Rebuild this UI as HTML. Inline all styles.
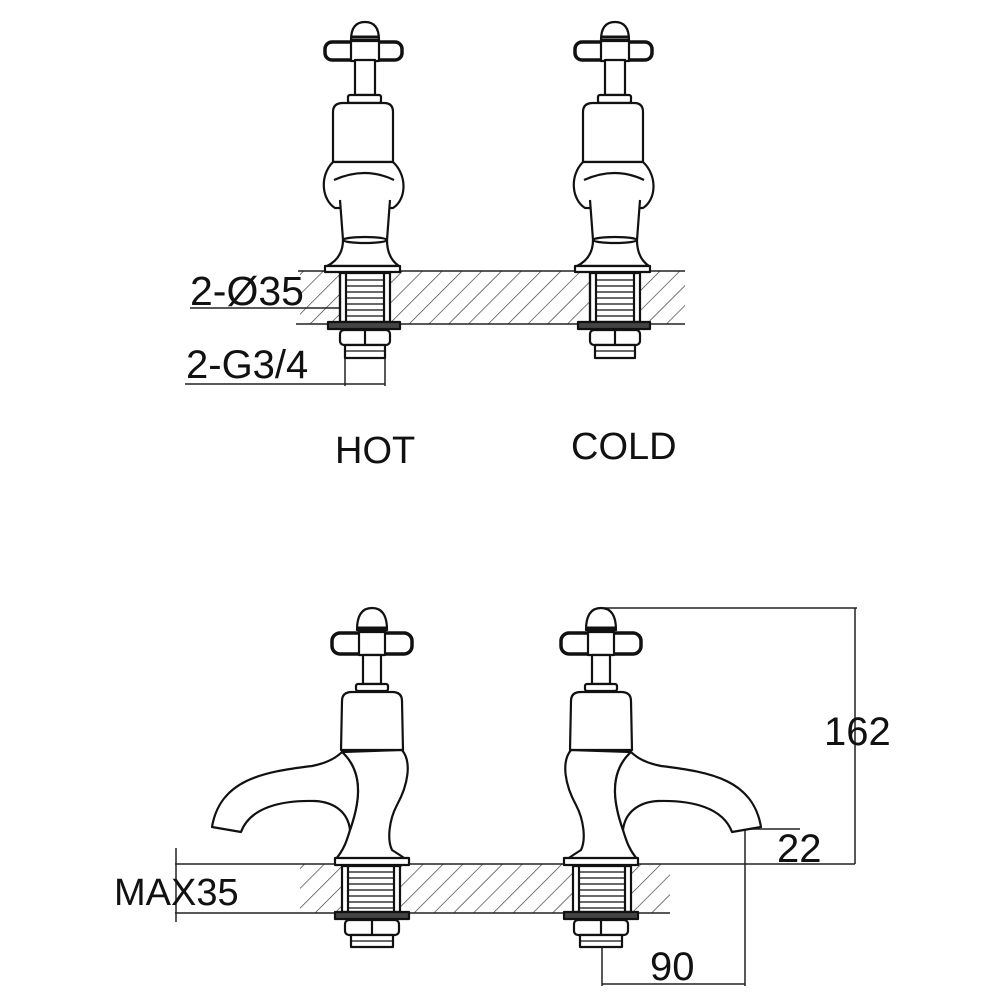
<!DOCTYPE html>
<html><head><meta charset="utf-8"><style>
html,body{margin:0;padding:0;background:#fff}
svg{display:block}
text{font-family:"Liberation Sans",sans-serif;fill:#111}
</style></head><body>
<svg width="1000" height="1000" viewBox="0 0 1000 1000" xmlns="http://www.w3.org/2000/svg">
<defs>
<pattern id="h" patternUnits="userSpaceOnUse" width="14" height="14" patternTransform="rotate(45)">
<line x1="0" y1="0" x2="0" y2="14" stroke="#333" stroke-width="1.3"/>
</pattern>
<g id="top" fill="#fff" stroke="#111" stroke-width="2.2" stroke-linejoin="round">
<path d="M-14,40 Q-14,22 0,22 Q14,22 14,40 Z"/>
<line x1="-13" y1="37" x2="13" y2="37" stroke-width="3"/>
<rect x="-40" y="42" width="77" height="18" rx="7" stroke-width="3.5"/>
<rect x="-14" y="41" width="28" height="20"/>
<rect x="-10" y="60" width="20" height="35"/>
<rect x="-17" y="95" width="33" height="8" rx="2"/>
<path d="M-32,162 L-32,112 Q-32,103 -22,103 L19,103 Q28,103 28,112 L28,162 Z"/>
<path d="M-32,162 C-46,176 -43,200 -30,208 L28,208 C41,200 43,176 28,162 Z"/>
<path d="M-31,180 Q0,166 29,180" fill="none"/>
<path d="M-25,200 L-22,240 L22,240 L25,200"/>
<path d="M-22,240 C-22,255 -30,262 -38,266 L34,266 C28,262 22,255 22,240 Z"/>
<ellipse cx="0" cy="240" rx="22" ry="3"/>
<rect x="-40" y="266" width="75" height="6"/>
<rect x="-25" y="273" width="50" height="49"/>
<line x1="-25" y1="273" x2="-25" y2="322"/><line x1="-19" y1="273" x2="-19" y2="322"/>
<line x1="19" y1="273" x2="19" y2="322"/>
<path d="M-18,280H18M-18,286H18M-18,292H18M-18,298H18M-18,304H18M-18,310H18M-18,316H18" stroke-width="1.3"/>
<rect x="-37" y="322" width="72" height="7" fill="#444"/>
<rect x="-25" y="330" width="50" height="15" rx="4"/>
<line x1="0" y1="330" x2="0" y2="345"/>
<rect x="-20" y="345" width="40" height="13"/>
<path d="M-20,351H20" stroke-width="1.3"/>
</g>
<g id="bot" fill="#fff" stroke="#111" stroke-width="2.2" stroke-linejoin="round">
<path d="M-15,630 Q-15,608 0,608 Q15,608 15,630 Z"/>
<line x1="-14" y1="628" x2="14" y2="628" stroke-width="3"/>
<rect x="-40" y="633" width="80" height="21" rx="8" stroke-width="3.5"/>
<rect x="-13" y="632" width="26" height="23"/>
<rect x="-9" y="655" width="18" height="29"/>
<rect x="-16" y="684" width="32" height="7" rx="2"/>
<path d="M-31,750 L-30,701 Q-30,692 -20,692 L20,692 Q30,692 30,701 L31,750 Z"/>
<path d="M-30,750 C-40,762 -36,785 -25,805 C-17,820 -15,840 -20,850 Q-28,855 -35,860 L37,860 C28,850 25,840 22,830 C15,810 5,775 30,752 Z"/>
<path d="M30,752 Q40,762 60,766 C110,772 152,780 160,827 L131,832 C122,808 92,800 57,801 C38,802 24,812 22,830 C15,810 5,775 30,752 Z"/>
<rect x="-37" y="858" width="74" height="7"/>
<rect x="-28" y="866" width="58" height="46"/>
<line x1="-22" y1="866" x2="-22" y2="912"/><line x1="24" y1="866" x2="24" y2="912"/>
<path d="M-21,872H23M-21,878H23M-21,884H23M-21,890H23M-21,896H23M-21,902H23M-21,908H23" stroke-width="1.3"/>
<rect x="-37" y="912" width="74" height="7" fill="#444"/>
<rect x="-27" y="920" width="54" height="15" rx="4"/>
<line x1="0" y1="920" x2="0" y2="935"/>
<rect x="-21" y="935" width="42" height="12"/>
<path d="M-21,941H21" stroke-width="1.3"/>
</g>
</defs>

<!-- top slab -->
<rect x="300" y="271" width="385" height="53" fill="url(#h)"/>
<rect x="190" y="309" width="108" height="16" fill="#fff"/>
<g stroke="#222" stroke-width="1.5" fill="none">
<line x1="298" y1="271" x2="685" y2="271"/>
<line x1="296" y1="324" x2="685" y2="324"/>
<line x1="190" y1="308" x2="340" y2="308"/>
<line x1="185" y1="384" x2="385" y2="384"/>
<line x1="345" y1="355" x2="345" y2="386"/>
<line x1="385" y1="355" x2="385" y2="386"/>
</g>
<use href="#top" x="365"/>
<use href="#top" x="615"/>
<text x="190" y="305" font-size="41">2-Ø35</text>
<text x="186" y="378" font-size="40">2-G3/4</text>
<text x="335" y="463" font-size="38">HOT</text>
<text x="571" y="459" font-size="38">COLD</text>

<!-- bottom slab -->
<rect x="300" y="864" width="370" height="49" fill="url(#h)"/>
<g stroke="#222" stroke-width="1.5" fill="none">
<line x1="175" y1="864" x2="855" y2="864"/>
<line x1="175" y1="913" x2="670" y2="913"/>
<line x1="176" y1="848" x2="176" y2="922"/>
<line x1="603" y1="608" x2="857" y2="608"/>
<line x1="855" y1="608" x2="855" y2="864"/>
<line x1="745" y1="829" x2="800" y2="829"/>
<line x1="745" y1="829" x2="745" y2="986"/>
<line x1="602" y1="945" x2="602" y2="986"/>
<line x1="602" y1="984" x2="745" y2="984"/>
</g>
<use href="#bot" transform="translate(372,0) scale(-1,1)"/>
<use href="#bot" x="601"/>
<text x="114" y="905" font-size="38">MAX35</text>
<text x="824" y="745" font-size="40">162</text>
<text x="777" y="862" font-size="40">22</text>
<text x="650" y="980" font-size="40">90</text>
</svg>
</body></html>
